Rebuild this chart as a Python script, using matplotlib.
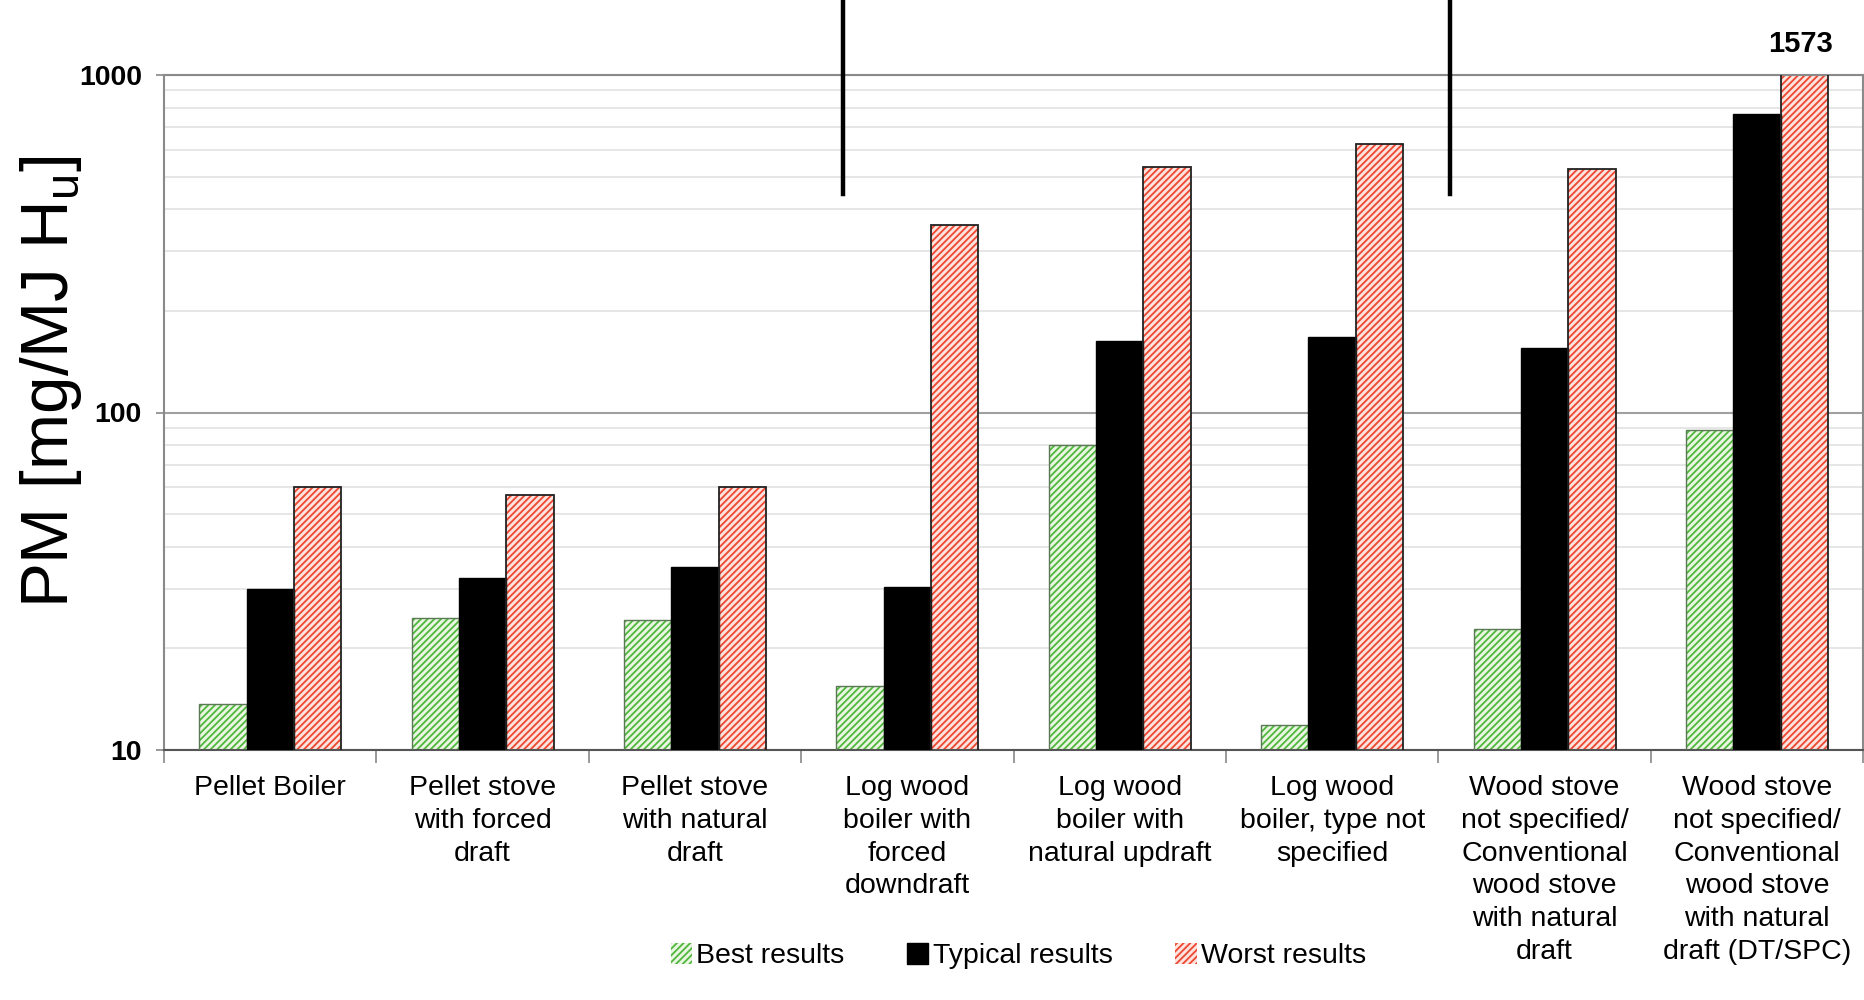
import matplotlib
matplotlib.use("Agg")
import matplotlib.pyplot as plt
from matplotlib.lines import Line2D
from matplotlib.patches import Patch
from matplotlib.ticker import FixedLocator, NullFormatter
import numpy as np

plt.rcParams['font.family'] = ['Liberation Sans', 'DejaVu Sans']
plt.rcParams['hatch.linewidth'] = 1.3

categories = [
    "Pellet Boiler",
    "Pellet stove\nwith forced\ndraft",
    "Pellet stove\nwith natural\ndraft",
    "Log wood\nboiler with\nforced\ndowndraft",
    "Log wood\nboiler with\nnatural updraft",
    "Log wood\nboiler, type not\nspecified",
    "Wood stove\nnot specified/\nConventional\nwood stove\nwith natural\ndraft",
    "Wood stove\nnot specified/\nConventional\nwood stove\nwith natural\ndraft (DT/SPC)",
]
best = [13.7, 24.6, 24.2, 15.5, 80, 11.9, 22.9, 89]
typical = [30, 32.4, 34.8, 30.4, 163, 167, 155, 767]
worst = [60, 57, 60, 360, 535, 625, 527, 1573]
series_labels = ["Best results", "Typical results", "Worst results"]
ytick_vals = [10, 100, 1000]

fig = plt.figure(figsize=(18.65, 10), dpi=100)
ax_w = (1865 - 164) / 1865 - 0.001
ax = fig.add_axes([164 / 1865, 0.25, ax_w, 0.675])

x = np.arange(len(categories))
w = 0.223

green_face, green_hatch = "#eaf6e2", "#4fb83c"
red_face, red_hatch = "#fde3de", "#ee4630"

# grid
ax.set_yscale("log")
ax.set_ylim(10, 1000)
ax.set_xlim(-0.5, len(categories) - 0.5)
ax.yaxis.set_major_locator(FixedLocator(ytick_vals))
minor = [m * 10 ** d for d in (1, 2) for m in range(2, 10)]
ax.yaxis.set_minor_locator(FixedLocator(minor))
ax.yaxis.set_minor_formatter(NullFormatter())
ax.grid(True, which="minor", axis="y", color="#e2e2e2", lw=1.2)
ax.grid(True, which="major", axis="y", color="#a0a0a0", lw=1.5)
ax.set_axisbelow(True)

# bars: fill+hatch then outline
ax.bar(x - w, best, w, color=green_face, edgecolor=green_hatch, hatch="/////", lw=0, zorder=2)
ax.bar(x - w, best, w, fill=False, edgecolor="#5a7a55", lw=1.0, zorder=3)
ax.bar(x, typical, w, color="black", edgecolor="black", lw=1.0, zorder=3)
ax.bar(x + w, worst, w, color=red_face, edgecolor=red_hatch, hatch="/////", lw=0, zorder=2)
ax.bar(x + w, worst, w, fill=False, edgecolor="#222222", lw=1.3, zorder=3)

# clipped value label
for xi, v in zip(x, worst):
    if v > 1000:
        ax.annotate(f"{v:g}", xy=(xi + w - 0.02, 1000), xytext=(0, 12), textcoords="offset points",
                    ha="center", va="bottom", fontsize=21, fontweight="bold")

# x ticks
ax.set_xticks(x)
ax.set_xticklabels(categories, fontsize=20.5, linespacing=1.34)
ax.tick_params(axis="x", which="major", length=0, pad=18)
ax.set_xticks(np.arange(len(categories) + 1) - 0.5, minor=True)
ax.tick_params(axis="x", which="minor", length=9, color="#888888", width=1.2)

# y ticks
ax.set_yticklabels([str(v) for v in ytick_vals], fontsize=20.5, fontweight="bold")
ax.tick_params(axis="y", which="major", length=6, color="#888888", width=1.2, pad=10)
ax.tick_params(axis="y", which="minor", length=0)

for s in ["left", "top", "right"]:
    ax.spines[s].set_color("#8a8a8a")
    ax.spines[s].set_linewidth(1.5)
ax.spines["bottom"].set_color("#555555")
ax.spines["bottom"].set_linewidth(1.5)

ax.set_ylabel("PM [mg/MJ H$_\\mathregular{u}$]", fontsize=48.5)
ax.yaxis.set_label_coords((84 - 164) / (ax_w * 1865), 0.545)

# legend
handles = [
    Patch(facecolor=green_face, edgecolor=green_hatch, hatch="/////", lw=0),
    Patch(facecolor="black", edgecolor="black"),
    Patch(facecolor=red_face, edgecolor=red_hatch, hatch="/////", lw=0),
]
fig.legend(handles, series_labels, loc="center", bbox_to_anchor=(0.546, 0.044), ncol=3,
           frameon=False, fontsize=20.5, handlelength=0.75, handleheight=0.75,
           handletextpad=0.15, columnspacing=2.2)

# decorative black separator lines at top
for fx in (843 / 1865, 1450 / 1865):
    fig.add_artist(Line2D([fx, fx], [1.0, 1 - 194 / 1000], transform=fig.transFigure,
                          color="black", lw=3.2))

fig.savefig("out.png", dpi=100, facecolor="white")
